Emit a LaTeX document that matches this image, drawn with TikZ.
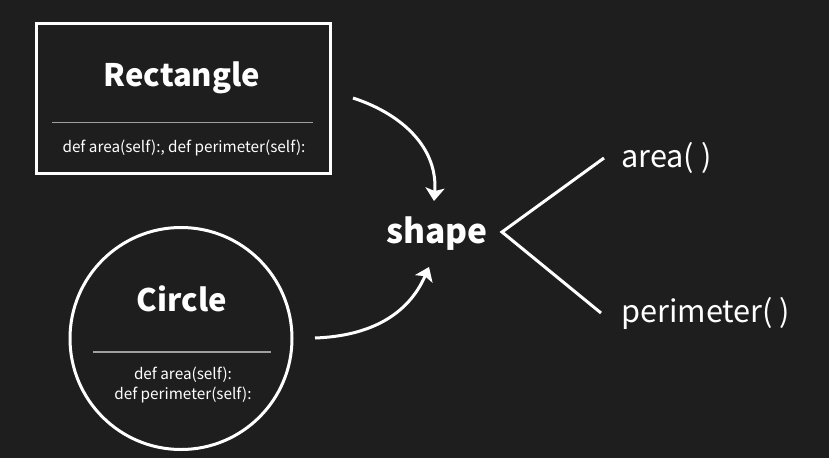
\documentclass[tikz,border=0pt]{standalone}
\usepackage{fontspec}
\setmainfont{Noto Sans CJK KR}
\usetikzlibrary{arrows.meta}
\definecolor{bgc}{HTML}{1E1E1E}
\definecolor{sepc}{HTML}{A0A0A0}
\tikzset{
  wline/.style={draw=white, line width=3pt},
  sepline/.style={draw=sepc, line width=1.3pt},
  title/.style={text=white, font=\bfseries\fontsize{31}{34}\selectfont, inner sep=0pt, anchor=base},
  code/.style={text=white, font=\fontsize{15.3}{20}\selectfont, inner sep=0pt, anchor=base},
  label/.style={text=white, font=\fontsize{30.7}{33}\selectfont, inner sep=0pt, anchor=base west},
  arr/.style={draw=white, line width=3pt, -{Stealth[width=19pt,length=13pt,inset=3pt]}},
}
\begin{document}
\begin{tikzpicture}[x=1pt,y=-1pt]
\fill[bgc] (0,0) rectangle (829,458);
\useasboundingbox (0,0) rectangle (829,458);
% Rectangle box
\node[wline, rectangle, minimum width=293.5pt, minimum height=150pt, inner sep=0pt] (rect) at (183.25,98.5) {};
\node[title] (rtitle) at (182,86) {Rectangle};
\coordinate (rsl) at (52,122.7);
\coordinate (rsr) at (313,122.7);
\draw[sepline] (rsl) -- (rsr);
\node[code] (rcode) at (184,152) {def area(self):, def perimeter(self):};
% Circle
\node[wline, circle, minimum size=222pt, inner sep=0pt] (circ) at (181,338.5) {};
\node[title] (ctitle) at (182,311) {Circle};
\coordinate (csl) at (93,352);
\coordinate (csr) at (271,352);
\draw[sepline] (csl) -- (csr);
\node[code] (ccode1) at (183,379) {def area(self):};
\node[code] (ccode2) at (183,399) {def perimeter(self):};
% shape
\node[title, font=\bfseries\fontsize{33.5}{36}\selectfont] (shape) at (437,243) {shape};
\coordinate (a1s) at (353,98);
\coordinate (a1e) at (434,201);
\draw[arr] (a1s) .. controls (405,115) and (438,150) .. (a1e);
\coordinate (a2s) at (315,338);
\coordinate (a2e) at (429,267);
\draw[arr] (a2s) .. controls (370,336) and (408,315) .. (a2e);
% branches
\coordinate (v) at (502,232);
\coordinate (b1) at (604,158);
\coordinate (b2) at (601,313);
\draw[wline, line join=miter] (b1) -- (v) -- (b2);
\node[label] (area) at (621,167) {area( )};
\node[label] (perim) at (621,322) {perimeter( )};
\end{tikzpicture}
\end{document}
